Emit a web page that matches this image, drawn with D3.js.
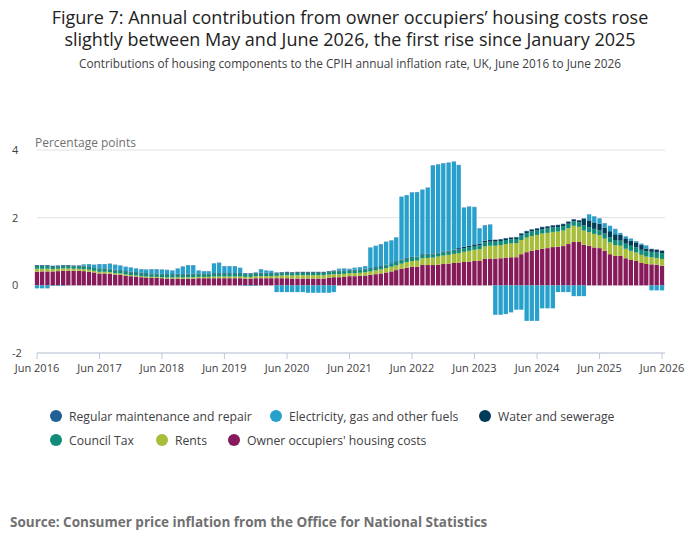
<!DOCTYPE html>
<html><head><meta charset="utf-8">
<script src="https://cdn.jsdelivr.net/npm/d3@7"></script>
<style>body{margin:0;background:#fff;font-family:"Open Sans",sans-serif}</style>
</head><body><svg id="c" width="700" height="549"></svg>
<script>
// months Jun 2016 .. Jun 2026 (121)
const startYear = 2016, startMonth = 5, nMonths = 121;
const months = d3.range(nMonths).map(i => new Date(startYear, startMonth + i, 1));
const tickLabels = ["Jun 2016","Jun 2017","Jun 2018","Jun 2019","Jun 2020","Jun 2021","Jun 2022","Jun 2023","Jun 2024","Jun 2025","Jun 2026"];
const yTicks = [-2, 0, 2, 4];

const ooh = [
.40,.41,.41,.41,.42,.43,.43,.43,.43,.42,.40,.38,
.35,.35,.34,.32,.31,.28,.27,.26,.24,.23,.22,.22,
.21,.20,.20,.20,.19,.20,.20,.21,.21,.21,.21,.21,
.21,.21,.21,.21,.20,.20,.21,.21,.21,.21,.21,.21,
.21,.20,.20,.20,.20,.20,.20,.20,.22,.24,.24,.25,
.27,.27,.28,.29,.31,.33,.35,.38,.41,.45,.49,.52,
.55,.55,.60,.60,.60,.61,.63,.64,.66,.67,.69,.70,
.72,.72,.78,.79,.79,.80,.82,.83,.83,.92,.98,1.02,
1.05,1.08,1.10,1.13,1.14,1.16,1.22,1.28,1.28,1.20,1.17,1.12,
1.10,1.02,.92,.87,.87,.80,.75,.72,.66,.63,.62,.61,
.58];
const rents = [
.09,.08,.08,.07,.07,.07,.07,.06,.06,.06,.06,.05,
.05,.05,.05,.04,.04,.04,.03,.03,.03,.03,.03,.03,
.03,.03,.03,.04,.04,.04,.04,.04,.04,.04,.05,.05,
.05,.05,.05,.05,.05,.05,.06,.06,.06,.06,.07,.08,
.09,.09,.10,.10,.10,.10,.10,.10,.10,.09,.09,.09,
.09,.09,.09,.10,.10,.11,.12,.13,.14,.14,.15,.17,
.17,.18,.20,.21,.22,.24,.25,.26,.27,.28,.30,.32,
.33,.35,.37,.38,.38,.39,.40,.41,.42,.42,.43,.44,
.44,.45,.45,.45,.45,.46,.47,.48,.45,.42,.40,.40,
.38,.36,.35,.32,.30,.28,.27,.25,.24,.22,.21,.20,
.20];
const councilTax = [
.08,.08,.08,.07,.07,.07,.07,.07,.07,.08,.08,.08,
.08,.08,.08,.08,.08,.08,.08,.08,.08,.08,.08,.08,
.08,.08,.08,.08,.08,.08,.08,.08,.08,.08,.08,.08,
.08,.08,.08,.08,.08,.08,.08,.08,.08,.07,.07,.07,
.07,.07,.07,.07,.07,.07,.07,.07,.07,.08,.08,.08,
.08,.08,.08,.08,.08,.08,.08,.08,.08,.10,.10,.10,
.10,.10,.10,.10,.10,.10,.10,.10,.10,.11,.11,.11,
.11,.11,.12,.12,.12,.12,.12,.12,.12,.13,.13,.13,
.13,.13,.13,.13,.13,.13,.13,.13,.13,.15,.15,.15,
.15,.15,.15,.15,.15,.15,.15,.15,.15,.16,.16,.16,
.16];
const water = [
.02,.02,.02,.02,.02,.02,.02,.02,.02,.02,.02,.02,
.02,.02,.02,.02,.02,.02,.02,.02,.02,.02,.02,.02,
.02,.02,.02,.02,.02,.02,.02,.02,.02,.02,.02,.02,
.02,.02,.02,.02,.02,.02,.02,.02,.02,.02,.02,.02,
.02,.02,.02,.02,.02,.02,.02,.02,.02,.02,.02,.02,
.02,.02,.02,.02,.02,.02,.02,.02,.02,.02,.02,.02,
.02,.02,.02,.02,.02,.02,.02,.02,.02,.04,.04,.04,
.05,.05,.05,.05,.05,.05,.05,.05,.05,.06,.06,.06,
.06,.06,.06,.06,.06,.06,.06,.06,.06,.20,.20,.19,
.19,.18,.18,.17,.17,.16,.15,.15,.14,.08,.08,.08,
.08];
const maintenance = [
.01,.01,.01,.01,.01,.01,.01,.01,.01,.01,.01,.01,
.01,.01,.01,.01,.01,.01,.01,.01,.01,.01,.01,.01,
.01,.01,.01,.01,.01,.01,.01,.01,.01,.01,.01,.01,
.01,.01,.01,.01,.01,.01,.01,.01,.01,.01,.01,.01,
.01,.01,.01,.01,.01,.01,.01,.01,.01,.01,.01,.01,
.01,.01,.01,.01,.01,.01,.01,.01,.01,.01,.01,.01,
.01,.01,.01,.01,.01,.01,.01,.01,.01,.01,.01,.01,
.01,.01,.01,.01,.01,.01,.01,.01,.01,.01,.01,.01,
.01,.01,.01,.01,.01,.01,.01,.01,.01,.01,.01,.01,
.01,.01,.01,.01,.01,.01,.01,.01,.01,.01,.01,.01,
.01];
const energy = [
-.09,-.09,-.09,-.02,-.02,-.02,0,0,0,.03,.06,.07,
.12,.12,.14,.14,.13,.12,.12,.10,.10,.10,.12,.12,
.12,.12,.10,.15,.22,.25,.25,.08,.06,.06,.28,.30,
.20,.20,.20,.15,-.02,-.02,-.02,.10,.06,.06,-.20,-.20,
-.20,-.20,-.20,-.20,-.22,-.22,-.22,-.22,-.22,-.20,.05,.05,
.02,.05,.06,.07,.60,.62,.64,.67,.67,.70,1.85,1.85,
1.90,1.90,1.90,1.95,2.60,2.60,2.60,2.60,2.60,2.45,1.15,1.15,
1.10,.45,.45,.45,-.87,-.87,-.85,-.80,-.72,-.72,-1.05,-1.05,
-1.05,-.68,-.68,-.68,-.20,-.20,-.20,-.32,-.32,-.32,.17,.17,
.15,.12,.15,.15,.05,.05,.05,.03,.03,.08,-.15,-.15,
-.15];

const series = [
 {key:"ooh", name:"Owner occupiers' housing costs", color:"#871a5b", values:ooh},
 {key:"rents", name:"Rents", color:"#a8bd3a", values:rents},
 {key:"ct", name:"Council Tax", color:"#118c7b", values:councilTax},
 {key:"water", name:"Water and sewerage", color:"#003c57", values:water},
 {key:"energy", name:"Electricity, gas and other fuels", color:"#27a0cc", values:energy},
 {key:"maint", name:"Regular maintenance and repair", color:"#206095", values:maintenance}
];
const rows = months.map((m,i)=>{const r={date:m}; series.forEach(s=>r[s.key]=s.values[i]); return r;});

const svg = d3.select("#c");
const x0 = 37, x1 = 662;
const x = d3.scaleTime().domain([months[0], months[nMonths-1]]).range([x0, x1]);
const y = d3.scaleLinear().domain([-2, 4]).range([353, 150]);

svg.append("text").attr("x",350).attr("y",24).attr("text-anchor","middle").attr("font-size",18).attr("fill","#222")
  .text("Figure 7: Annual contribution from owner occupiers’ housing costs rose");
svg.append("text").attr("x",350).attr("y",46).attr("text-anchor","middle").attr("font-size",18).attr("fill","#222")
  .text("slightly between May and June 2026, the first rise since January 2025");
svg.append("text").attr("x",350).attr("y",68).attr("text-anchor","middle").attr("font-size",11.8).attr("fill","#414042")
  .text("Contributions of housing components to the CPIH annual inflation rate, UK, June 2016 to June 2026");

svg.append("g").selectAll("line").data(yTicks).join("line")
  .attr("x1",x0).attr("x2",665).attr("y1",d=>y(d)).attr("y2",d=>y(d))
  .attr("stroke","#e2e2e3").attr("stroke-width",1);
svg.append("g").selectAll("text").data(yTicks).join("text")
  .attr("x",12).attr("y",d=>y(d)+4).attr("font-size",11).attr("fill","#414042").text(d=>d);
svg.append("text").attr("x",35).attr("y",147).attr("font-size",12).attr("fill","#707071").text("Percentage points");

const stack = d3.stack().keys(series.map(s=>s.key)).offset(d3.stackOffsetDiverging);
const stacked = stack(rows);
const bw = 4.3;
svg.append("g").selectAll("g").data(stacked).join("g")
  .attr("fill",(d,i)=>series[i].color)
  .selectAll("rect").data(d=>d).join("rect")
  .attr("x",d=>x(d.data.date)-bw/2).attr("width",bw)
  .attr("y",d=>y(Math.max(d[0],d[1]))).attr("height",d=>Math.abs(y(d[0])-y(d[1])));

const tickDates = tickLabels.map((t,i)=>months[i*12]);
const ax = svg.append("g").attr("transform",`translate(0,${y(-2)})`);
ax.append("line").attr("x1",x0).attr("x2",665).attr("stroke","#bcc7dd");
ax.selectAll("line.t").data(tickDates).join("line").attr("class","t")
  .attr("x1",d=>x(d)).attr("x2",d=>x(d)).attr("y1",0).attr("y2",6).attr("stroke","#bcc7dd");
ax.selectAll("text").data(tickDates).join("text")
  .attr("x",d=>x(d)).attr("y",19).attr("text-anchor","middle").attr("font-size",11).attr("fill","#414042")
  .text((d,i)=>tickLabels[i]);

const legend = [
 {s:5,x:56,y:416},{s:4,x:276,y:416},{s:3,x:485,y:416},
 {s:2,x:56,y:440},{s:1,x:162,y:440},{s:0,x:234,y:440}];
const lg = svg.append("g").selectAll("g").data(legend).join("g").attr("transform",d=>`translate(${d.x},${d.y})`);
lg.append("circle").attr("r",6).attr("fill",d=>series[d.s].color);
lg.append("text").attr("x",13).attr("y",4.5).attr("font-size",12.2).attr("fill","#414042").text(d=>series[d.s].name);

svg.append("text").attr("x",10).attr("y",527).attr("font-size",13.5).attr("font-weight","bold").attr("fill","#707071")
  .text("Source: Consumer price inflation from the Office for National Statistics");
</script></body></html>
